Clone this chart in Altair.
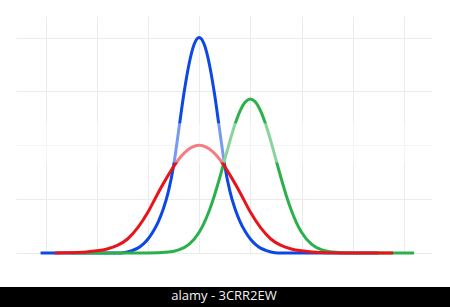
import altair as alt
import pandas as pd

# --- data (x in grid units, y in grid units) ---
blue_x = [-3.1, -1.6, -1.45, -1.3, -1.2, -1.1, -1.0, -0.9, -0.8, -0.7, -0.6, -0.5, -0.4, -0.3, -0.2, -0.1,
          0.0, 0.1, 0.2, 0.3, 0.4, 0.5, 0.6, 0.7, 0.8, 0.9, 1.0, 1.1, 1.2, 1.3, 1.45, 1.6, 3.5]
blue_y = [0.0, 0.0, 0.01, 0.05, 0.09, 0.16, 0.26, 0.40, 0.58, 0.82, 1.15, 1.62, 2.28, 2.95, 3.50, 3.87,
          4.0, 3.87, 3.50, 2.95, 2.28, 1.62, 1.15, 0.82, 0.58, 0.40, 0.26, 0.16, 0.09, 0.05, 0.01, 0.0, 0.0]

green_x = [-2.5, -1.0, -0.6, -0.4, -0.2, 0.0, 0.1, 0.2, 0.3, 0.4, 0.5, 0.6, 0.7, 0.8, 0.9,
           1.0, 1.1, 1.2, 1.3, 1.4, 1.5, 1.6, 1.7, 1.8, 1.9, 2.0, 2.2, 2.4, 2.6, 2.8, 3.0, 4.2]
green_y = [0.0, 0.0, 0.017, 0.057, 0.161, 0.387, 0.566, 0.795, 1.073, 1.392, 1.735, 2.077, 2.389, 2.640, 2.803,
           2.86, 2.803, 2.640, 2.389, 2.077, 1.735, 1.392, 1.073, 0.795, 0.566, 0.387, 0.161, 0.057, 0.017, 0.004, 0.0, 0.0]

red_x = [-2.82, -2.6, -2.4, -2.2, -2.0, -1.8, -1.6, -1.4, -1.2, -1.0, -0.8, -0.6, -0.4, -0.2,
         0.0, 0.2, 0.4, 0.6, 0.8, 1.0, 1.2, 1.4, 1.6, 1.8, 2.0, 2.2, 2.4, 2.6, 2.8, 3.79]
red_y = [0.0, 0.004, 0.01, 0.02, 0.04, 0.075, 0.14, 0.26, 0.47, 0.76, 1.12, 1.45, 1.74, 1.93,
         2.0, 1.93, 1.74, 1.45, 1.12, 0.76, 0.47, 0.26, 0.14, 0.075, 0.04, 0.02, 0.01, 0.004, 0.0, 0.0]

grid_x = [-3, -2, -1, 0, 1, 2, 3, 4]
grid_y = [0, 1, 2, 3, 4]
band = [1.68, 2.41]          # pale band where the strokes look washed out
watermark = ["alamy - 3CRR2EW"]

colors = {"blue": "#0b48e6", "green": "#2bb14b", "red": "#e8141c"}

def frame(name, xs, ys):
    return pd.DataFrame({"series": name, "x": xs, "y": ys, "i": range(len(xs))})

xscale = alt.Scale(domain=[-3.58, 4.55], nice=False, zero=False)
yscale = alt.Scale(domain=[0, 4.4], nice=False, zero=False)
xaxis = alt.Axis(values=grid_x, grid=True, gridColor="#ebebeb", gridWidth=1,
                 labels=False, ticks=False, domain=False, title=None)
yaxis = alt.Axis(values=grid_y, grid=True, gridColor="#ebebeb", gridWidth=1,
                 labels=False, ticks=False, domain=False, title=None)

def line(name, xs, ys):
    return alt.Chart(frame(name, xs, ys)).mark_line(
        color=colors[name], strokeWidth=3, interpolate="monotone", strokeCap="butt"
    ).encode(
        x=alt.X("x:Q", scale=xscale, axis=xaxis),
        y=alt.Y("y:Q", scale=yscale, axis=yaxis),
        order="i:Q",
    )

band_layer = alt.Chart(pd.DataFrame({"lo": [band[0]], "hi": [band[1]]})).mark_rect(
    color="white", opacity=0.45
).encode(
    y=alt.Y("lo:Q", scale=yscale, axis=yaxis), y2="hi:Q",
    x=alt.value(0), x2=alt.value(416),
)

wm = pd.DataFrame({"t": watermark})
wm_bar = alt.Chart(wm).mark_rect(color="black").encode(
    x=alt.value(-16), x2=alt.value(434), y=alt.value(271), y2=alt.value(291)
)
wm_text = alt.Chart(wm).mark_text(
    color="#f2f2f2", font="Open Sans", fontSize=13, align="center", baseline="middle"
).encode(x=alt.value(208), y=alt.value(280), text="t:N")

chart = alt.layer(
    line("blue", blue_x, blue_y),
    line("green", green_x, green_y),
    line("red", red_x, red_y),
    band_layer,
    wm_bar,
    wm_text,
).properties(
    width=416, height=237,
    padding={"left": 16, "top": 16, "right": 18, "bottom": 54},
    autosize=alt.AutoSizeParams(type="none"),
    background="white",
).configure_view(stroke=None)

chart.save("out.html", embed_options={"renderer": "svg", "actions": False})
